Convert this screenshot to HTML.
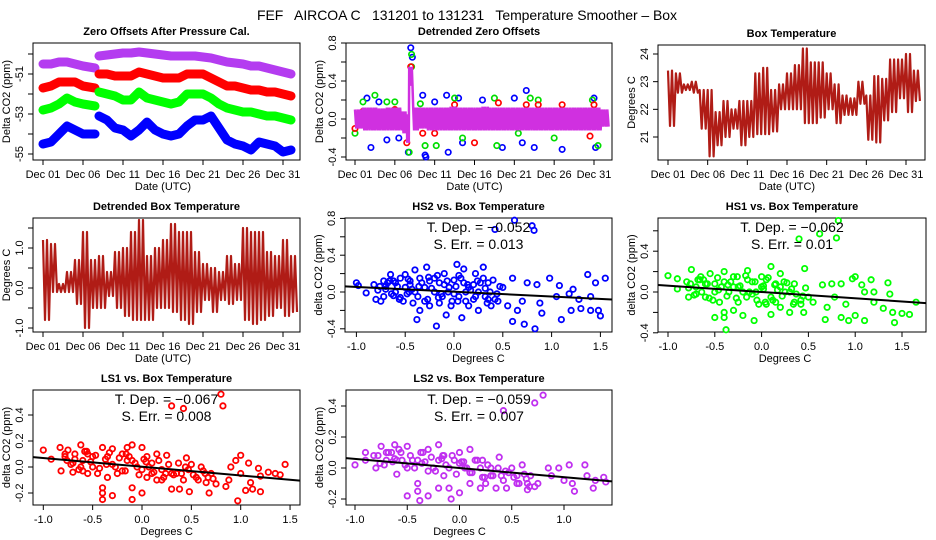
<!DOCTYPE html>
<html><head><meta charset="utf-8"><title>FEF AIRCOA C Temperature Smoother</title>
<style>
html,body{margin:0;padding:0;background:#fff;}
svg{display:block;font-family:"Liberation Sans",Arial,sans-serif;}
</style></head>
<body>
<svg id="chart" width="936" height="540" viewBox="0 0 936 540">
<rect x="0" y="0" width="936" height="540" fill="#fff"/>
<text x="467" y="20" font-size="14" text-anchor="middle" textLength="420" xml:space="preserve">FEF   AIRCOA C   131201 to 131231   Temperature Smoother – Box</text>
</svg>
<script>
// ---------- Panel 1: zero offsets (ppm), null = gap ----------
const zoDays = [1,2,3,4,5,6,7.5,null,8,9,10,11,12,13,14,15,16,17,18,19,20,21,22,23,24,25,26,27,28,29,30,31,32];
const zoBlue = [-54.5,-54.4,-54.0,-53.6,-53.8,-54.0,-54.0,null,-53.1,-53.3,-53.7,-53.8,-54.1,-53.8,-53.4,-53.8,-54.0,-54.1,-54.0,-53.6,-53.3,-53.3,-53.1,-53.7,-54.3,-54.5,-54.6,-54.8,-54.4,-54.5,-54.6,-54.9,-54.8];
const zoGreen = [-52.8,-52.7,-52.5,-52.2,-52.4,-52.5,-52.6,null,-51.9,-52.0,-52.1,-52.3,-52.3,-51.9,-52.2,-52.3,-52.4,-52.5,-52.4,-52.0,-52.0,-52.0,-52.2,-52.5,-52.7,-52.8,-52.9,-52.9,-53.0,-53.1,-53.1,-53.2,-53.3];
const zoRed = [-51.7,-51.6,-51.4,-51.4,-51.4,-51.6,-51.7,null,-51.0,-51.0,-51.1,-51.1,-51.1,-50.9,-51.0,-51.1,-51.2,-51.2,-51.2,-51.0,-51.0,-51.0,-51.2,-51.4,-51.6,-51.6,-51.7,-51.8,-51.8,-51.9,-51.9,-52.0,-52.1];
const zoPurple = [-50.5,-50.5,-50.4,-50.4,-50.5,-50.6,-50.7,null,-50.1,-50.05,-50.0,-49.95,-49.95,-49.9,-49.95,-50.0,-50.05,-50.1,-50.1,-50.1,-50.1,-50.15,-50.2,-50.3,-50.4,-50.45,-50.5,-50.6,-50.6,-50.7,-50.8,-50.9,-51.0];

// ---------- Panel 2: detrended zero offsets ----------
const dzDays = [1,2,3,4,5,6,7,7.5,7.8,8.3,9,10,11,12,13,14,15,16,17,18,19,20,21,22,23,24,25,26,27,28,29,30,31,32];
const dzHi = [0.1,0.12,0.12,0.11,0.12,0.12,0.08,0.05,0.55,0.12,0.12,0.12,0.12,0.12,0.13,0.12,0.12,0.12,0.13,0.12,0.12,0.12,0.12,0.12,0.12,0.12,0.12,0.12,0.12,0.12,0.12,0.12,0.12,0.1];
const dzLo = [-0.1,-0.12,-0.12,-0.12,-0.12,-0.12,-0.15,-0.25,0.35,-0.12,-0.1,-0.12,-0.12,-0.12,-0.12,-0.12,-0.12,-0.12,-0.12,-0.12,-0.12,-0.12,-0.12,-0.12,-0.12,-0.12,-0.12,-0.12,-0.12,-0.12,-0.12,-0.12,-0.12,-0.08];
const dzOutDay = [2.5,3,4,5,6.5,7.7,8,8.2,9.5,9.8,9.9,11,12.5,12.7,14,14.5,17,19.5,21,22,22.5,23.5,27,31,31.2, 1,2,3.5,5,6,7.8,8.1,8.1,9.2,9.8,11.2,13.5,14.5,18.5,18.8,21.5,23,24,26,30.8,31.5, 1,2,6,7.5,8,9.5,11,13.5,16,19,22.5,24,27,30.5,31];
const dzOutVal = [0.22,-0.3,0.18,-0.22,-0.2,-0.35,0.75,0.65,0.25,-0.38,-0.4,0.18,0.25,-0.35,0.22,-0.25,0.2,-0.3,0.22,-0.25,0.3,-0.3,-0.32,0.22,-0.3, -0.15,0.18,0.25,0.18,0.18,-0.35,0.68,0.55,0.16,-0.28,-0.28,0.22,-0.2,0.22,-0.28,-0.15,0.22,0.2,-0.2,0.2,-0.28, -0.1,0.08,0.1,-0.25,0.55,-0.15,-0.15,0.15,-0.25,0.17,0.15,0.15,0.15,-0.18,0.15];
const dzOutSeries = ['b','b','b','b','b','b','b','b','b','b','b','b','b','b','b','b','b','b','b','b','b','b','b','b','b','g','g','g','g','g','g','g','g','g','g','g','g','g','g','g','g','g','g','g','g','g','r','r','r','r','r','r','r','r','r','r','r','r','r','r','r'];

// ---------- Panel 3: box temperature (deg C), daily high / low ----------
const btDays = [1,2,3,4,5,6,7,8,9,10,11,12,13,14,15,16,17,18,19,20,21,22,23,24,25,26,27,28,29,30,31,32];
const btHi = [23.4,23.3,22.9,23.0,22.7,22.7,21.9,22.3,22.0,22.3,22.3,23.3,23.5,22.7,22.9,23.3,23.6,24.2,23.7,23.7,23.3,22.9,22.5,22.4,23.0,22.5,23.2,23.1,23.8,23.8,24.0,23.4];
const btLo = [21.4,22.6,22.7,22.6,21.3,20.3,20.7,21.0,21.3,20.7,21.0,21.1,21.1,21.2,22.0,22.0,22.0,21.5,21.5,21.7,22.0,21.5,21.8,21.8,22.2,20.9,20.8,21.6,21.9,22.4,21.9,22.3];

// ---------- Panel 4: detrended box temperature ----------
const dbHi = [1.2,1.1,0.1,0.4,0.7,1.4,0.7,0.8,0.4,0.9,1.0,1.4,1.7,0.8,1.0,1.2,1.6,1.4,1.4,0.9,0.6,0.5,0.4,0.8,0.6,1.5,1.4,1.4,0.9,0.8,1.2,0.8];
const dbLo = [-0.8,-0.1,-0.1,-0.1,-0.4,-1.0,-0.5,-0.5,-0.2,-0.5,-0.7,-0.8,-0.8,-0.8,-0.5,-0.5,-0.6,-0.8,-0.9,-0.6,-0.3,-0.6,-0.3,-0.4,-0.3,-0.8,-0.9,-0.8,-0.7,-0.5,-0.7,-0.6];

// ---------- Scatter panels ----------
const hs2T = [-1.0,-0.98,-0.9,-0.82,-0.8,-0.75,-0.72,-0.7,-0.65,-0.62,-0.6,-0.55,-0.5,-0.48,-0.45,-0.42,-0.4,-0.38,-0.35,-0.3,-0.28,-0.25,-0.2,-0.18,-0.15,-0.12,-0.1,-0.08,-0.05,-0.02,0.0,0.03,0.05,0.08,0.1,0.12,0.15,0.2,0.22,0.25,0.3,0.32,0.35,0.38,0.4,0.42,0.45,0.5,0.55,0.6,0.62,0.6,0.65,0.7,0.72,0.75,0.8,0.82,0.83,0.85,0.88,0.9,0.98,1.05,1.08,1.1,1.18,1.2,1.22,1.28,1.3,1.37,1.4,1.4,1.45,1.48,1.5,1.55,-0.6,-0.5,-0.4,-0.3,-0.2,-0.1,0.0,0.1,0.2,-0.7,-0.55,-0.25,0.05,0.15,0.25,-0.35,-0.15,0.35,-0.45,0.3,
  -0.78,-0.72,-0.68,-0.64,-0.58,-0.52,-0.47,-0.43,-0.37,-0.33,-0.27,-0.23,-0.17,-0.13,-0.07,-0.03,0.02,0.07,0.12,0.17,0.22,0.27,0.32,0.37,0.42,0.47,-0.76,-0.66,-0.56,-0.46,-0.36,-0.26,-0.16,-0.06,0.04,0.14,0.24,0.34,0.44,-0.62];
const hs2C = [0.1,0.07,-0.01,0.08,-0.08,-0.1,0.12,0.03,0.19,-0.04,0.1,0.15,0.19,-0.02,0.08,-0.12,0.24,-0.3,-0.2,0.05,0.27,-0.15,0.15,-0.37,0.1,-0.05,0.2,-0.25,0.05,-0.1,0.13,0.3,-0.05,-0.28,0.25,0.0,-0.15,0.08,0.2,-0.2,0.27,-0.05,0.1,-0.15,0.13,0.68,-0.1,0.05,-0.15,0.15,0.78,-0.32,-0.2,-0.1,-0.35,0.1,0.72,0.67,-0.4,0.08,-0.12,-0.23,0.15,-0.05,0.07,-0.3,-0.02,-0.2,0.03,-0.08,-0.18,0.19,-0.05,-0.2,0.1,-0.2,-0.26,0.15,0.0,0.05,0.0,-0.1,0.0,0.08,-0.02,0.1,-0.08,0.06,-0.06,0.12,0.18,0.05,0.0,0.15,-0.12,-0.08,0.12,0.15,
  0.02,-0.05,0.1,-0.02,0.06,-0.1,0.14,0.03,-0.05,0.1,-0.08,0.04,0.18,-0.02,0.12,-0.15,0.06,0.15,-0.1,0.02,-0.05,0.1,0.04,0.0,-0.08,0.06,0.06,0.12,-0.08,0.0,0.06,0.16,-0.06,0.0,-0.1,0.08,0.12,-0.12,-0.02,0.12];
const hs1T = [-1.0,-0.9,-0.9,-0.8,-0.78,-0.75,-0.7,-0.65,-0.6,-0.55,-0.5,-0.5,-0.45,-0.4,-0.4,-0.4,-0.38,-0.35,-0.3,-0.3,-0.25,-0.2,-0.15,-0.1,-0.08,-0.05,0.0,0.02,0.05,0.1,0.1,0.15,0.2,0.2,0.25,0.3,0.35,0.4,0.42,0.45,0.46,0.5,0.55,0.62,0.65,0.68,0.7,0.75,0.78,0.8,0.82,0.85,0.85,0.9,0.93,0.97,1.0,1.0,1.07,1.1,1.1,1.17,1.2,1.2,1.3,1.35,1.37,1.4,1.42,1.5,1.58,1.65,-0.6,-0.5,-0.3,-0.2,-0.1,0.0,0.1,0.2,0.3,-0.7,-0.4,-0.15,0.05,0.15,-0.25,0.35,
  -0.78,-0.72,-0.68,-0.64,-0.58,-0.52,-0.47,-0.43,-0.37,-0.33,-0.27,-0.23,-0.17,-0.13,-0.07,-0.03,0.02,0.07,0.12,0.17,0.22,0.27,0.32,0.37,0.42,0.47,-0.76,-0.66,-0.56,-0.46,-0.36,-0.26,-0.16,-0.06,0.04,0.14,0.24,0.34,0.44,-0.62];
const hs1C = [0.16,0.13,0.03,0.1,-0.05,0.22,0.05,0.15,-0.05,0.18,-0.25,0.08,-0.1,0.2,-0.2,-0.25,-0.37,0.0,0.15,-0.18,0.05,-0.23,0.21,0.1,-0.28,-0.08,0.15,0.03,-0.12,0.25,-0.22,0.08,-0.15,0.18,0.0,-0.2,0.08,0.52,-0.12,-0.2,0.23,-0.05,-0.1,0.57,0.07,-0.27,-0.15,0.08,-0.05,0.53,0.7,0.08,-0.25,-0.12,-0.28,0.13,0.15,-0.23,0.07,-0.28,0.0,0.12,-0.1,0.0,-0.16,0.09,-0.02,-0.2,-0.3,-0.21,-0.22,-0.1,0.08,0.0,0.05,0.0,-0.02,0.05,-0.05,0.05,0.0,-0.02,0.1,0.12,0.12,-0.1,-0.1,-0.1,
  0.04,-0.03,0.12,0.0,0.08,-0.08,0.14,0.05,-0.04,0.1,-0.06,0.06,0.16,0.0,0.1,-0.12,0.06,0.14,-0.08,0.02,-0.04,0.09,0.03,-0.02,-0.08,0.04,0.08,0.12,-0.06,0.02,0.07,0.15,-0.05,0.0,-0.1,0.07,0.1,-0.12,-0.04,0.12];
const ls1T = [-1.0,-0.92,-0.83,-0.82,-0.78,-0.75,-0.7,-0.68,-0.62,-0.6,-0.55,-0.5,-0.45,-0.4,-0.4,-0.4,-0.4,-0.35,-0.3,-0.3,-0.25,-0.2,-0.15,-0.1,-0.1,-0.1,-0.05,0.0,0.0,0.05,0.1,0.15,0.2,0.25,0.3,0.3,0.35,0.38,0.42,0.45,0.48,0.5,0.55,0.6,0.65,0.68,0.7,0.75,0.8,0.82,0.85,0.88,0.9,0.95,0.97,1.0,1.0,1.05,1.08,1.1,1.12,1.18,1.2,1.2,1.28,1.35,1.4,1.45,-0.6,-0.5,-0.3,-0.2,-0.1,0.0,0.1,0.2,0.3,-0.7,-0.35,0.05,0.4,-0.55,0.15,-0.15,
  -0.78,-0.72,-0.68,-0.64,-0.58,-0.52,-0.47,-0.43,-0.37,-0.33,-0.27,-0.23,-0.17,-0.13,-0.07,-0.03,0.02,0.07,0.12,0.17,0.22,0.27,0.32,0.37,0.42,0.47,0.52,0.57,0.62,0.67,-0.76,-0.56,-0.36,-0.16,0.04,0.24,0.44,0.64,0.72,-0.62];
const ls1C = [0.13,0.06,0.15,-0.03,0.08,0.13,-0.04,0.1,0.17,-0.03,0.1,0.0,-0.05,0.15,-0.16,-0.2,-0.25,0.08,0.14,-0.22,-0.05,0.1,0.15,0.17,-0.16,-0.25,0.0,0.15,-0.2,0.08,-0.05,0.1,-0.1,0.09,0.47,-0.17,-0.05,-0.17,0.45,0.07,-0.19,0.02,-0.08,0.0,-0.12,-0.2,-0.05,-0.13,0.56,0.47,-0.15,-0.1,0.0,0.05,-0.26,0.09,-0.05,-0.18,0.03,-0.12,-0.17,-0.01,-0.07,-0.19,-0.04,-0.05,-0.06,0.02,0.05,0.08,0.02,-0.03,0.05,-0.02,0.03,-0.02,-0.05,0.03,-0.08,-0.08,-0.05,-0.05,-0.1,0.05,
  0.1,0.02,0.06,-0.02,0.12,0.04,0.09,-0.01,0.06,0.11,0.0,0.07,-0.03,0.08,0.03,-0.06,0.06,0.0,-0.04,0.05,-0.08,0.02,-0.06,0.03,-0.1,-0.02,-0.06,-0.1,-0.03,-0.08,0.05,0.12,0.02,0.1,0.04,-0.05,0.0,-0.05,-0.09,0.0];
const ls2T = [-1.0,-0.9,-0.9,-0.82,-0.8,-0.75,-0.7,-0.65,-0.62,-0.6,-0.55,-0.5,-0.5,-0.45,-0.4,-0.4,-0.38,-0.35,-0.3,-0.3,-0.25,-0.2,-0.2,-0.15,-0.1,-0.08,-0.05,0.0,0.0,0.05,0.1,0.1,0.15,0.2,0.22,0.25,0.3,0.35,0.38,0.42,0.45,0.5,0.55,0.6,0.65,0.68,0.72,0.75,0.8,0.85,0.88,0.95,1.0,1.05,1.08,1.1,1.2,1.22,1.28,1.3,1.38,1.4,-0.6,-0.5,-0.4,-0.3,-0.2,-0.1,0.0,0.1,0.2,0.3,-0.7,-0.15,0.4,0.55,0.65,
  -0.78,-0.72,-0.68,-0.64,-0.58,-0.52,-0.47,-0.43,-0.37,-0.33,-0.27,-0.23,-0.17,-0.13,-0.07,-0.03,0.02,0.07,0.12,0.17,0.22,0.27,0.32,0.37,0.42,0.47,0.52,0.57,0.62,0.67,-0.76,-0.56,-0.36,-0.16,0.04,0.24,0.44,0.64,0.72,-0.62];
const ls2C = [0.02,0.1,0.05,0.08,0.0,0.14,0.05,0.1,0.15,-0.04,0.05,0.14,-0.18,0.05,-0.1,-0.15,-0.21,0.1,0.12,-0.18,0.0,0.15,-0.13,-0.05,-0.13,-0.2,0.05,0.1,-0.16,0.0,0.12,-0.1,0.05,-0.13,0.05,-0.1,0.0,-0.13,0.07,0.37,-0.13,0.0,-0.1,0.02,-0.14,-0.05,0.42,-0.1,0.47,0.0,-0.05,0.0,-0.08,0.02,-0.1,-0.15,0.02,-0.05,-0.13,-0.08,-0.06,-0.09,0.05,0.0,0.05,-0.02,0.05,0.0,0.03,-0.03,0.0,-0.05,0.1,0.08,-0.05,-0.05,-0.1,
  0.08,0.02,0.1,0.04,0.12,0.02,0.08,0.0,0.1,0.04,0.07,-0.02,0.06,0.02,0.08,-0.04,0.04,0.0,-0.03,0.05,-0.06,0.02,-0.05,0.0,-0.08,-0.03,-0.06,-0.1,-0.04,-0.12,0.03,0.1,0.03,0.08,0.04,-0.06,-0.02,-0.07,-0.12,0.06];

const fitSlope = [-0.052,-0.062,-0.067,-0.059];
const fitIntercept = [0.003,0.0,0.002,0.0];
const fitDepText = ['-0.052','-0.062','-0.067','-0.059'];
const fitErrText = ['0.013','0.01','0.008','0.007'];

const dateTicks = [1,6,11,16,21,26,31];
const dateLabels = ['Dec 01','Dec 06','Dec 11','Dec 16','Dec 21','Dec 26','Dec 31'];

const NS = 'http://www.w3.org/2000/svg';
const svg = document.getElementById('chart');
function mk(tag, attrs, parent){
  const e = document.createElementNS(NS, tag);
  for (const k in attrs) e.setAttribute(k, attrs[k]);
  (parent || svg).appendChild(e);
  return e;
}
function lin(v0, p0, v1, p1){ return v => p0 + (v - v0) * (p1 - p0) / (v1 - v0); }

function frame(p){
  const g = mk('g', {});
  
  
  const [l,t,r,b] = p.box;
  const bx = mk('rect', {x:l, y:t, width:r-l, height:b-t, fill:'none', stroke:'#000', 'stroke-width':1}, g);
  
  
  const tt = mk('text', {x:(l+r)/2, y:t-8, 'font-size':11, 'font-weight':'bold', 'text-anchor':'middle'}, g);
  tt.textContent = p.title;
  
  
  const xs = p.xt.map(p.sx);
  const xa = mk('line', {x1:xs[0], x2:xs[xs.length-1], y1:b, y2:b, stroke:'#000'}, g);
  
  
  p.xt.forEach((v,i) => {
    const x = p.sx(v);
    const tk = mk('line', {x1:x, x2:x, y1:b, y2:b+5, stroke:'#000'}, g);
    
    
    const lb = mk('text', {x:x, y:b+18, 'font-size':11, 'text-anchor':'middle'}, g);
    lb.textContent = p.xl[i];
    
    
  });
  const xt = mk('text', {x:(xs[0]+xs[xs.length-1])/2, y:b+30, 'font-size':11, 'text-anchor':'middle'}, g);
  xt.textContent = p.xlab;
  
  
  const ys = p.yt.map(p.sy);
  const ya = mk('line', {x1:l, x2:l, y1:ys[0], y2:ys[ys.length-1], stroke:'#000'}, g);
  
  
  p.yt.forEach((v,i) => {
    const y = p.sy(v);
    const tk = mk('line', {x1:l-5, x2:l, y1:y, y2:y, stroke:'#000'}, g);
    
    
    if (p.yl[i] !== '') {
      const tx = l - 10;
      const lb = mk('text', {x:tx, y:y, 'font-size':11, 'text-anchor':'middle', transform:`rotate(-90 ${tx} ${y})`}, g);
      lb.textContent = p.yl[i];
      
      
    }
  });
  const yx = l - 23, yy = (t+b)/2;
  const yt = mk('text', {x:yx, y:yy, 'font-size':11, 'text-anchor':'middle', transform:`rotate(-90 ${yx} ${yy})`}, g);
  yt.textContent = p.ylab;
  
  
  return g;
}

// ===== Panel 1 =====
{
  const sx = lin(1,43,31,283), sy = lin(-51,74,-53,114);
  const g = frame({name:'zero-offsets-panel', box:[33,43,300,160], sx, sy, xt:dateTicks, xl:dateLabels,
    yt:[-55,-54,-53,-52,-51,-50], yl:['-55','','-53','','-51',''], title:'Zero Offsets After Pressure Cal.', xlab:'Date (UTC)', ylab:'Delta CO2 (ppm)'});
  const series = [[zoPurple,'#b43cf0'],[zoRed,'#ff0000'],[zoGreen,'#00ff00'],[zoBlue,'#0000ff']];
  series.forEach(([vals,col]) => {
    let segs = [[]];
    zoDays.forEach((d,i) => {
      if (d === null || vals[i] === null) { segs.push([]); return; }
      segs[segs.length-1].push(sx(d).toFixed(1)+','+sy(vals[i]).toFixed(1));
    });
    segs.filter(s => s.length).forEach(s => {
      const pl = mk('polyline', {points:s.join(' '), fill:'none', stroke:col, 'stroke-width':9, 'stroke-linejoin':'round', 'stroke-linecap':'round'}, g);
      
      
    });
  });
}

// zigzag helper (diurnal cycle between high and low)
function zig(days, hi, lo, sx, sy, reps){
  const pts = [];
  days.forEach((d,i) => {
    const nd = i < days.length-1 ? days[i+1] : d + 1;
    const span = nd - d;
    for (let k=0;k<reps;k++){
      const dd = d + span*k/reps;
      pts.push(sx(dd).toFixed(1)+','+sy(hi[i]).toFixed(1));
      pts.push(sx(dd + span*0.5/reps).toFixed(1)+','+sy(lo[i]).toFixed(1));
    }
  });
  return pts.join(' ');
}

// ===== Panel 2 =====
{
  const sx = lin(1,355,31,594), sy = lin(0,119,0.4,81);
  const g = frame({name:'detrended-zero-offsets-panel', box:[346,43,612,160], sx, sy, xt:dateTicks, xl:dateLabels,
    yt:[-0.4,-0.2,0,0.2,0.4,0.6,0.8], yl:['-0.4','','0.0','','0.4','','0.8'], title:'Detrended Zero Offsets', xlab:'Date (UTC)', ylab:'Delta CO2 (ppm)'});
  const cols = {b:'#0000ff', g:'#00dd00', r:'#ff0000'};
  dzOutDay.forEach((d,i) => {
    const c = mk('circle', {cx:sx(d), cy:sy(dzOutVal[i]), r:2.7, fill:'none', stroke:cols[dzOutSeries[i]], 'stroke-width':1.7}, g);
    
    
  });
  const band = mk('polyline', {points:zig(dzDays, dzHi, dzLo, sx, sy, 3), fill:'none', stroke:'#d030e0', 'stroke-width':2.5}, g);
  
  
}

// ===== Panel 3 =====
{
  const sx = lin(1,668,31,906), sy = lin(24,54,21,137);
  const g = frame({name:'box-temperature-panel', box:[658,45,925,160], sx, sy, xt:dateTicks, xl:dateLabels,
    yt:[21,22,23,24], yl:['21','22','23','24'], title:'Box Temperature', xlab:'Date (UTC)', ylab:'Degrees C'});
  const pl = mk('polyline', {points:zig(btDays, btHi, btLo, sx, sy, 2), fill:'none', stroke:'#b01c16', 'stroke-width':2.2, 'stroke-linejoin':'round'}, g);
  
  
}

// ===== Panel 4 =====
{
  const sx = lin(1,43,31,283), sy = lin(0,288,1,248);
  const g = frame({name:'detrended-box-temperature-panel', box:[33,218,300,332], sx, sy, xt:dateTicks, xl:dateLabels,
    yt:[-1,-0.5,0,0.5,1,1.5], yl:['-1.0','','0.0','','1.0',''], title:'Detrended Box Temperature', xlab:'Date (UTC)', ylab:'Degrees C'});
  const pl = mk('polyline', {points:zig(btDays, dbHi, dbLo, sx, sy, 2), fill:'none', stroke:'#b01c16', 'stroke-width':2.2, 'stroke-linejoin':'round'}, g);
  
  
}

// ===== Scatter panels =====
function scatter(cfg, T, C, col, idx){
  const g = frame(cfg);
  const [l,t,r,b] = cfg.box;
  T.forEach((v,i) => {
    const c = mk('circle', {cx:cfg.sx(v), cy:cfg.sy(C[i]), r:2.7, fill:'none', stroke:col, 'stroke-width':1.8}, g);
    
    
  });
  const x0 = cfg.sxInv(l), x1 = cfg.sxInv(r);
  const ln = mk('line', {x1:l, x2:r, y1:cfg.sy(fitIntercept[idx]+fitSlope[idx]*x0), y2:cfg.sy(fitIntercept[idx]+fitSlope[idx]*x1), stroke:'#000', 'stroke-width':2}, g);
  
  
  const cx = (l+r)/2;
  const a = mk('text', {x:cx, y:t+14, 'font-size':14, 'text-anchor':'middle', 'xml:space':'preserve'}, g);
  a.textContent = 'T. Dep. =  ' + fitDepText[idx].replace('-','\u2212');
  
  
  const s = mk('text', {x:cx, y:t+31, 'font-size':14, 'text-anchor':'middle'}, g);
  s.textContent = 'S. Err. =  ' + fitErrText[idx];
  
  
}
const degT = [-1,-0.5,0,0.5,1,1.5], degL = ['-1.0','-0.5','0.0','0.5','1.0','1.5'];
{
  const sx = lin(0,454,1,551.6), sy = lin(0,292,0.4,255.2);
  scatter({name:'hs2-vs-box-temperature-panel', box:[345,218,612,332], sx, sy, sxInv:lin(454,0,551.6,1), xt:degT, xl:degL,
    yt:[-0.4,-0.2,0,0.2,0.4,0.6,0.8], yl:['-0.4','','0.0','','0.4','','0.8'], title:'HS2 vs. Box Temperature', xlab:'Degrees C', ylab:'delta CO2 (ppm)'}, hs2T, hs2C, '#0000ff', 0);
}
{
  const sx = lin(0,761.6,1,855.2), sy = lin(0,292,0.4,251.2);
  scatter({name:'hs1-vs-box-temperature-panel', box:[658,218,926,332], sx, sy, sxInv:lin(761.6,0,855.2,1), xt:degT, xl:degL,
    yt:[-0.4,-0.2,0,0.2,0.4,0.6], yl:['-0.4','','0.0','','0.4',''], title:'HS1 vs. Box Temperature', xlab:'Degrees C', ylab:'delta CO2 (ppm)'}, hs1T, hs1C, '#00ff00', 1);
}
{
  const sx = lin(0,142,1,240.7), sy = lin(0,467,0.2,441);
  scatter({name:'ls1-vs-box-temperature-panel', box:[33,390,300,505], sx, sy, sxInv:lin(142,0,240.7,1), xt:degT, xl:degL,
    yt:[-0.2,0,0.2,0.4], yl:['-0.2','0.0','0.2','0.4'], title:'LS1 vs. Box Temperature', xlab:'Degrees C', ylab:'delta CO2 (ppm)'}, ls1T, ls1C, '#ff0000', 2);
}
{
  const sx = lin(0,459.5,1,564), sy = lin(0,468,0.2,437);
  scatter({name:'ls2-vs-box-temperature-panel', box:[346,390,612,505], sx, sy, sxInv:lin(459.5,0,564,1), xt:[-1,-0.5,0,0.5,1], xl:['-1.0','-0.5','0.0','0.5','1.0'],
    yt:[-0.2,0,0.2,0.4], yl:['-0.2','0.0','0.2','0.4'], title:'LS2 vs. Box Temperature', xlab:'Degrees C', ylab:'delta CO2 (ppm)'}, ls2T, ls2C, '#c030f0', 3);
}
</script>
</body></html>
